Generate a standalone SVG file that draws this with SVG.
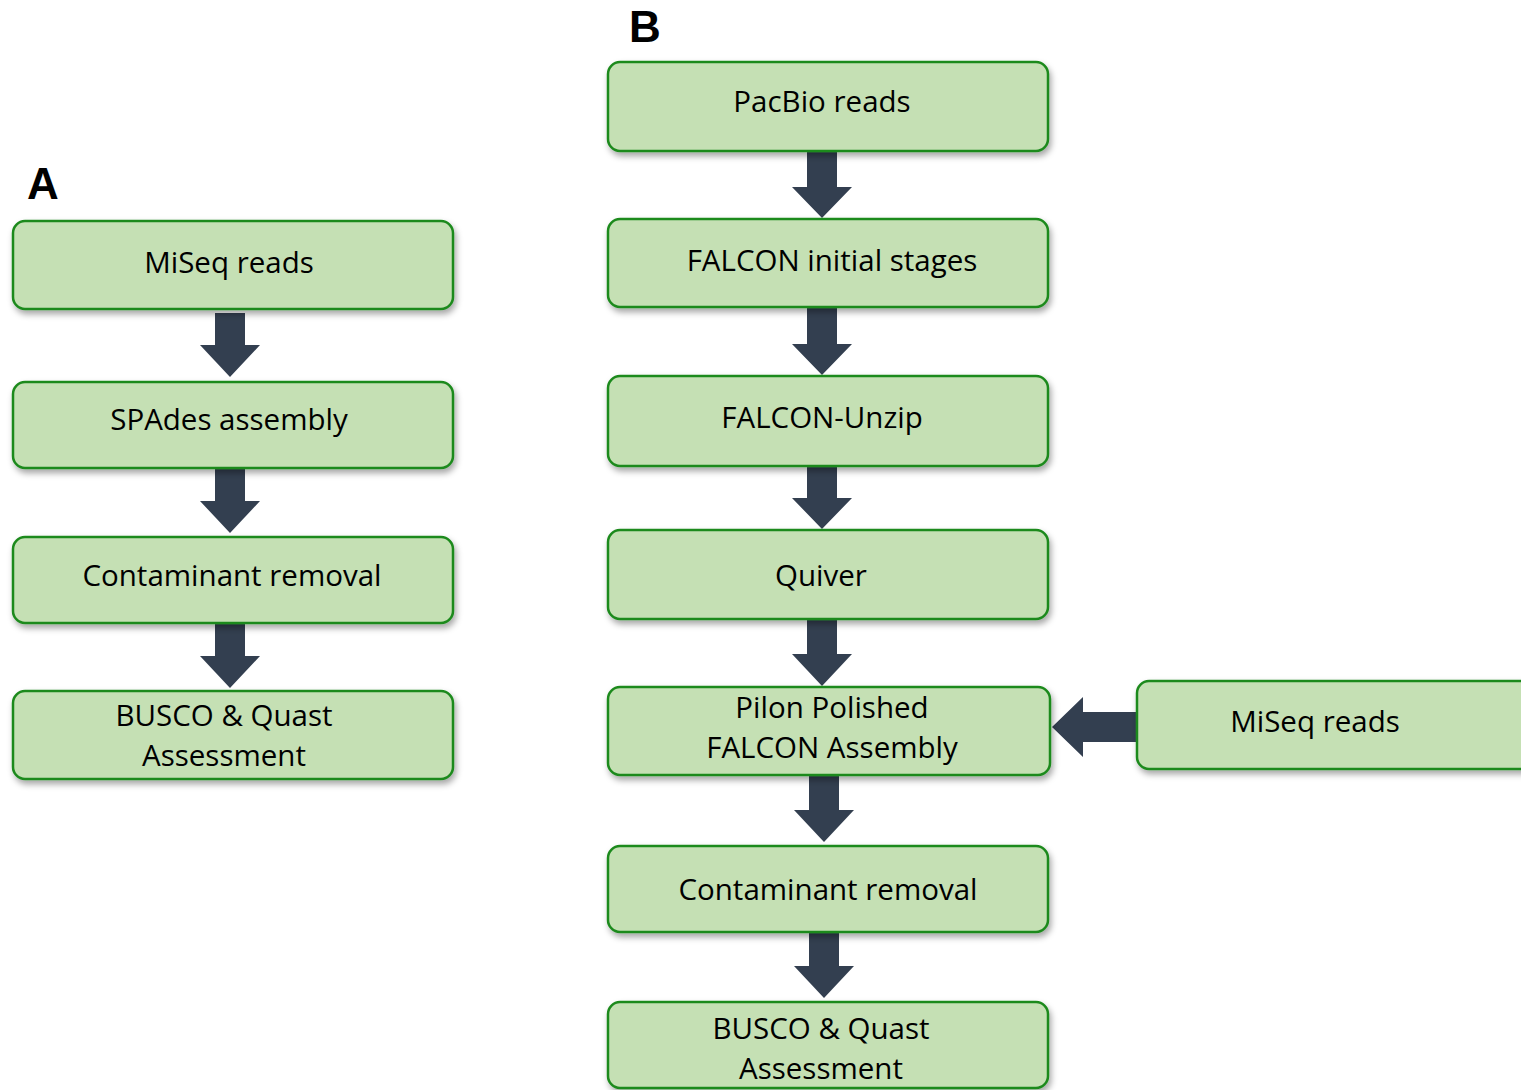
<svg xmlns="http://www.w3.org/2000/svg" width="1521" height="1090" viewBox="0 0 1521 1090">
<style>
.box{fill:#C5E0B4;stroke:#1E8A1E;stroke-width:2.5;filter:url(#sh)}
.t{font-family:"Open Sans","Noto Sans",sans-serif;font-size:29.5px;fill:#000;text-anchor:middle}
.lbl{font-family:"Liberation Sans",Arial,sans-serif;font-size:44px;font-weight:bold;fill:#000}
.arr{fill:#333F50}
</style>
<defs>
<filter id="sh" x="-10%" y="-20%" width="120%" height="150%">
<feDropShadow dx="2" dy="4" stdDeviation="3" flood-color="#000" flood-opacity="0.35"/>
</filter>
</defs>
<text class="lbl" x="27" y="199">A</text>
<text class="lbl" x="629" y="42">B</text>
<g id="connectors">
<polygon class="arr" points="215,313 245,313 245,345 260,345 230,377 200,345 215,345"/>
<polygon class="arr" points="215,468 245,468 245,501 260,501 230,533 200,501 215,501"/>
<polygon class="arr" points="215,623 245,623 245,656 260,656 230,688 200,656 215,656"/>
<polygon class="arr" points="807,151 837,151 837,187 852,187 822,218 792,187 807,187"/>
<polygon class="arr" points="807,307 837,307 837,344 852,344 822,375 792,344 807,344"/>
<polygon class="arr" points="807,466 837,466 837,498 852,498 822,529 792,498 807,498"/>
<polygon class="arr" points="807,619 837,619 837,654 852,654 822,686 792,654 807,654"/>
<polygon class="arr" points="809,775 839,775 839,810 854,810 824,842 794,810 809,810"/>
<polygon class="arr" points="809,932 839,932 839,966 854,966 824,998 794,966 809,966"/>
<polygon class="arr" points="1137,712 1137,742 1083,742 1083,757 1052,727 1083,697 1083,712"/>
</g>
<g id="a1"><rect class="box" x="13" y="221" width="440" height="88" rx="12"/><text class="t" x="229" y="273">MiSeq reads</text></g>
<g id="a2"><rect class="box" x="13" y="382" width="440" height="86" rx="12"/><text class="t" x="229" y="430">SPAdes assembly</text></g>
<g id="a3"><rect class="box" x="13" y="537" width="440" height="86" rx="12"/><text class="t" x="232" y="586">Contaminant removal</text></g>
<g id="a4"><rect class="box" x="13" y="691" width="440" height="88" rx="12"/><text class="t" x="224" y="726">BUSCO &amp; Quast</text><text class="t" x="224" y="766">Assessment</text></g>
<g id="b1"><rect class="box" x="608" y="62" width="440" height="89" rx="12"/><text class="t" x="822" y="112">PacBio reads</text></g>
<g id="b2"><rect class="box" x="608" y="219" width="440" height="88" rx="12"/><text class="t" x="832" y="271">FALCON initial stages</text></g>
<g id="b3"><rect class="box" x="608" y="376" width="440" height="90" rx="12"/><text class="t" x="822" y="428">FALCON-Unzip</text></g>
<g id="b4"><rect class="box" x="608" y="530" width="440" height="89" rx="12"/><text class="t" x="821" y="586">Quiver</text></g>
<g id="b5"><rect class="box" x="608" y="687" width="442" height="88" rx="12"/><text class="t" x="832" y="718">Pilon Polished</text><text class="t" x="832" y="758">FALCON Assembly</text></g>
<g id="b6"><rect class="box" x="608" y="846" width="440" height="86" rx="12"/><text class="t" x="828" y="900">Contaminant removal</text></g>
<g id="b7"><rect class="box" x="608" y="1002" width="440" height="86" rx="12"/><text class="t" x="821" y="1039">BUSCO &amp; Quast</text><text class="t" x="821" y="1079">Assessment</text></g>
<g id="c1"><rect class="box" x="1137" y="681" width="400" height="88" rx="12"/><text class="t" x="1315" y="732">MiSeq reads</text></g>
</svg>
